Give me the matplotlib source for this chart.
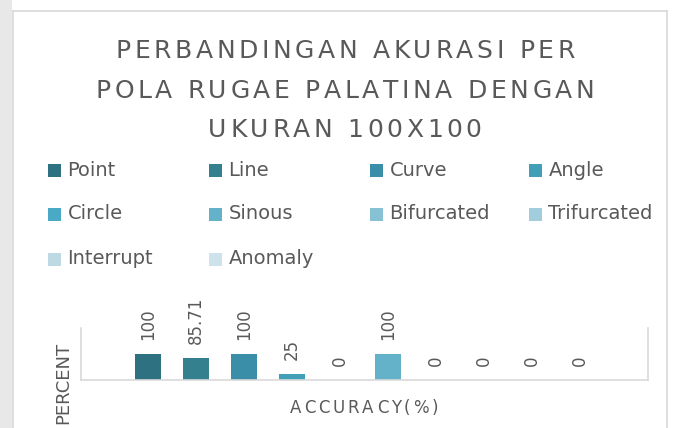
import matplotlib.pyplot as plt
from matplotlib.patches import Rectangle
from matplotlib.lines import Line2D

# data
pola = ['Point', 'Line', 'Curve', 'Angle', 'Circle', 'Sinous',
        'Bifurcated', 'Trifurcated', 'Interrupt', 'Anomaly']
akurasi = [100, 85.71, 100, 25, 0, 100, 0, 0, 0, 0]
label_akurasi = ['100', '85.71', '100', '25', '0', '100', '0', '0', '0', '0']
warna = ['#2E7180', '#35808F', '#3A8EA8', '#41A0B8', '#4AAAC5',
         '#63B2C9', '#86C1D4', '#A2CDDC', '#BCD9E4', '#CEE2EC']
judul = ['PERBANDINGAN AKURASI PER',
         'POLA RUGAE PALATINA DENGAN',
         'UKURAN 100X100']

W, H = 677, 428
teks = '#595959'
fig = plt.figure(figsize=(W / 100, H / 100), dpi=100)
fig.patch.set_facecolor('white')
r = fig.canvas.get_renderer()


def px(x, y):
    return x / W, 1 - y / H


def lebar(s, **kw):
    t = fig.text(0, 0, s, **kw)
    w = t.get_window_extent(r).width
    t.remove()
    return w


def teks_renggang(x, y, s, track, **kw):
    # text with letter spacing, centered at (x, y) in pixels
    base = lebar('HH', **kw)
    adv = [lebar('H' + c + 'H', **kw) - base for c in s]
    total = sum(adv) + track * (len(s) - 1)
    pos = x - total / 2
    for c, a in zip(s, adv):
        if c != ' ':
            fig.text(*px(pos, y), c, ha='left', va='center', **kw)
        pos += a + track


# page background + chart border
fig.add_artist(Rectangle((0, 0), 12 / W, 1, transform=fig.transFigure,
                         facecolor='#E8E8E8', edgecolor='none', zorder=0))
garis = dict(color='#D9D9D9', lw=1.2, transform=fig.transFigure)
fig.add_artist(Line2D([12.5 / W, 12.5 / W], [0, 1 - 11 / H], **garis))
fig.add_artist(Line2D([12.5 / W, 667 / W], [1 - 11 / H, 1 - 11 / H], **garis))
fig.add_artist(Line2D([667 / W, 667 / W], [0, 1 - 11 / H], **garis))

# title
for i, baris in enumerate(judul):
    teks_renggang(345, 51 + i * 39.5, baris, 3.6, fontsize=18, color=teks,
                  family='DejaVu Sans')

# legend
kol_x = [48, 209, 370, 529]
bar_y = [171, 214, 259]
for i, (nama, c) in enumerate(zip(pola, warna)):
    x0 = kol_x[i % 4]
    y0 = bar_y[i // 4]
    fig.add_artist(Rectangle(px(x0, y0 + 6.5), 13 / W, 13 / H,
                             transform=fig.transFigure, facecolor=c,
                             edgecolor='none'))
    fig.text(*px(x0 + 19.5, y0 - 1), nama, ha='left', va='center',
             fontsize=14, color=teks)

# bars
ax = fig.add_axes([81 / W, 1 - 380 / H, (648 - 81) / W, 52 / H])
x = list(range(len(pola)))
ax.bar(x, akurasi, width=0.54, color=warna)
ax.set_xlim(-1.4, 10.43)
ax.set_ylim(0, 200)
ax.spines['top'].set_visible(False)
for s in ['left', 'right', 'bottom']:
    ax.spines[s].set_color('#D9D9D9')
    ax.spines[s].set_linewidth(1.2)
ax.set_xticks([])
ax.set_yticks([])
ax.patch.set_alpha(0)
for xi, v, lab in zip(x, akurasi, label_akurasi):
    ax.annotate(lab, (xi, v), xytext=(0, 10), textcoords='offset points',
                rotation=90, ha='center', va='bottom', fontsize=12,
                color=teks)

# axis titles
fig.text(*px(63, 383), 'PERCENT', rotation=90, ha='center', va='center',
         fontsize=13, color=teks)
teks_renggang(364, 408, 'ACCURACY(%)', 2.9, fontsize=12, color=teks)

fig.savefig('out.png', dpi=100)
